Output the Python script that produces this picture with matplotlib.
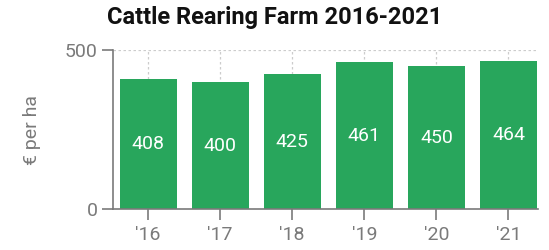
import matplotlib
matplotlib.use("Agg")
import matplotlib.pyplot as plt

years = ["'16", "'17", "'18", "'19", "'20", "'21"]
values = [408, 400, 425, 461, 450, 464]
y_ticks = [0, 500]

GREEN = "#28a65c"
GRAY = "#7a7a7a"

plt.rcParams['font.family'] = ['Roboto', 'DejaVu Sans']

fig = plt.figure(figsize=(5.49, 2.5), dpi=100)
ax = fig.add_axes([0.2053, 0.1628, 0.7747, 0.6372])

x = list(range(len(years)))
bars = ax.bar(x, values, width=0.79, color=GREEN, zorder=2)

# value labels in the middle of each bar
for xi, v in zip(x, values):
    ax.text(xi, v / 2, str(v), ha='center', va='center', color='white', fontsize=14)

ax.set_xlim(-0.49, 5.41)
ax.set_ylim(0, 500)
ax.set_xticks(x)
ax.set_xticklabels(years)
ax.set_yticks(y_ticks)

ax.grid(True, axis='both', linestyle=(0, (2, 2)), color='#cccccc', linewidth=0.9, zorder=0)

for side in ['top', 'right']:
    ax.spines[side].set_visible(False)
for side in ['left', 'bottom']:
    ax.spines[side].set_color(GRAY)
    ax.spines[side].set_linewidth(1.2)

ax.tick_params(axis='both', colors=GRAY, labelsize=14, length=8, width=1.2)
ax.tick_params(axis='x', pad=4)
ax.tick_params(axis='y', pad=3)

ax.set_ylabel("€ per ha", color=GRAY, fontsize=14, labelpad=17)

fig.suptitle("Cattle Rearing Farm 2016-2021", x=0.5, y=0.93, va='center',
             fontsize=17, fontweight='bold', color='#111111')

fig.savefig("out.png", dpi=100)
